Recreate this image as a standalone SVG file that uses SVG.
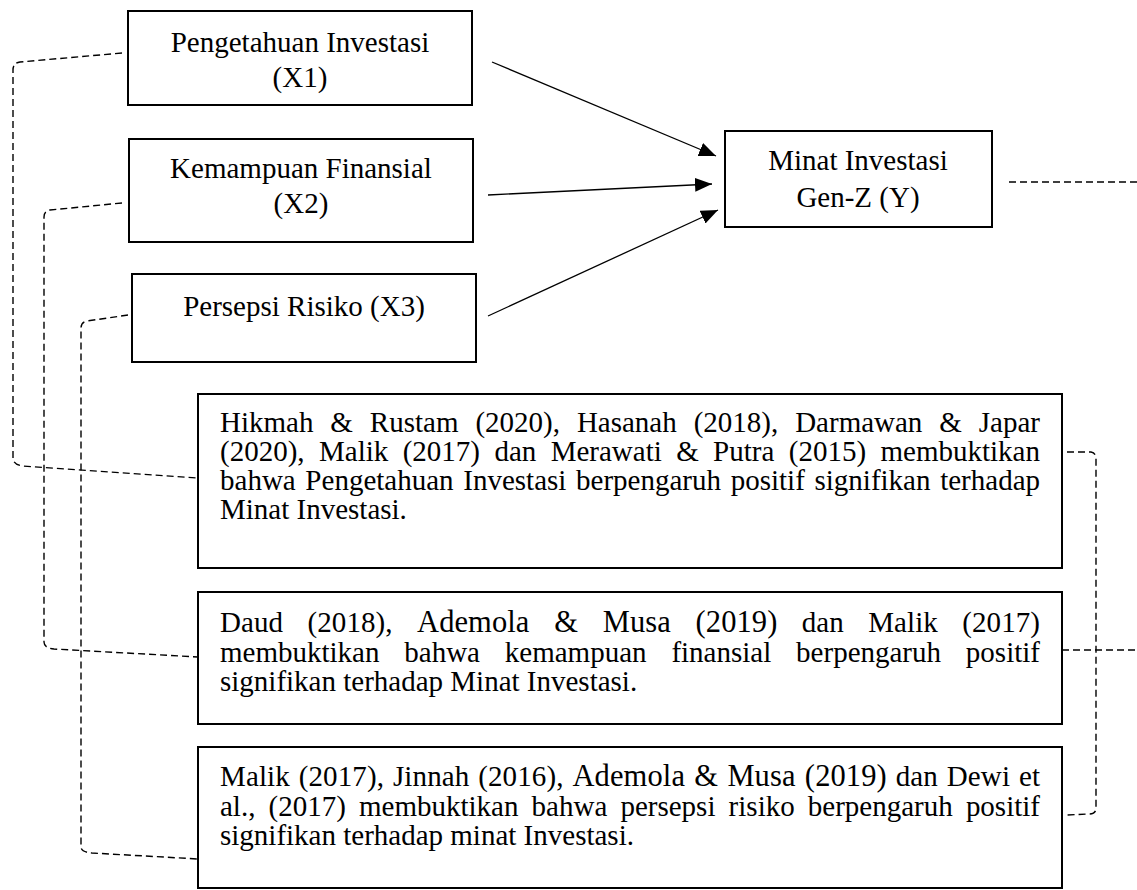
<svg xmlns="http://www.w3.org/2000/svg" width="1137" height="890" viewBox="0 0 1137 890">
<style>
.box{fill:#fff;stroke:#000;stroke-width:2}
.t{font-family:"Liberation Serif","Times New Roman",serif;font-size:29px;fill:#000}
.c{text-anchor:middle}
.big{font-size:30.5px}
.arr{fill:none;stroke:#000;stroke-width:1.3}
.dash{fill:none;stroke:#000;stroke-width:1.4;stroke-dasharray:7 4}
</style>
<defs>
<marker id="ah" markerUnits="userSpaceOnUse" markerWidth="18" markerHeight="14" refX="17" refY="7" orient="auto">
<path d="M0,0 L17,7 L0,14 z" fill="#000"/>
</marker>
</defs>
<g id="connectors">
<line class="arr" x1="492" y1="62" x2="716" y2="156" marker-end="url(#ah)"/>
<line class="arr" x1="488" y1="195" x2="712" y2="184" marker-end="url(#ah)"/>
<line class="arr" x1="488" y1="316" x2="718" y2="210" marker-end="url(#ah)"/>
<path class="dash" d="M122,53 L20,62 Q13,63 13,70 L13,458 Q13,464 22,466 L198,478"/>
<path class="dash" d="M122,203 L50,210 Q44,211 44,217 L44,642 Q44,648 54,649 L198,657"/>
<path class="dash" d="M128,315 L87,321 Q81,322 81,328 L81,847 Q81,852 92,853 L198,859"/>
<path class="dash" d="M1009,182 L1137,182"/>
<path class="dash" d="M1067,452 L1091,452 Q1096,453 1096,459 L1096,808 Q1096,814 1089,814 L1067,815"/>
<path class="dash" d="M1062,650 L1137,650"/>
</g>
<g id="x1">
<rect class="box" x="128" y="11" width="344" height="94"/>
<text class="t c" x="300" y="52">Pengetahuan Investasi</text>
<text class="t c" x="300" y="87">(X1)</text>
</g>
<g id="x2">
<rect class="box" x="129" y="139" width="344" height="103"/>
<text class="t c" x="301" y="178">Kemampuan Finansial</text>
<text class="t c" x="301" y="213">(X2)</text>
</g>
<g id="x3">
<rect class="box" x="132" y="274" width="344" height="88"/>
<text class="t c" x="304" y="316">Persepsi Risiko (X3)</text>
</g>
<g id="y">
<rect class="box" x="725" y="131" width="267" height="96"/>
<text class="t c" x="858" y="170">Minat Investasi</text>
<text class="t c" x="858" y="207">Gen-Z (Y)</text>
</g>
<g id="r1">
<rect class="box" x="198" y="394" width="864" height="174"/>
<text class="t" x="220" y="432" word-spacing="9.7" textLength="820" lengthAdjust="spacing">Hikmah &amp; Rustam (2020), Hasanah (2018), Darmawan &amp; Japar</text>
<text class="t" x="220" y="461" word-spacing="7.1" textLength="820" lengthAdjust="spacing">(2020), Malik (2017) dan Merawati &amp; Putra (2015) membuktikan</text>
<text class="t" x="220" y="490" word-spacing="2.4" textLength="820" lengthAdjust="spacing">bahwa Pengetahuan Investasi berpengaruh positif signifikan terhadap</text>
<text class="t" x="220" y="519">Minat Investasi.</text>
</g>
<g id="r2">
<rect class="box" x="198" y="592" width="864" height="132"/>
<text class="t" x="220" y="632" word-spacing="17" textLength="820" lengthAdjust="spacing">Daud (2018), <tspan class="big">Ademola &amp; Musa (2019)</tspan> dan Malik (2017)</text>
<text class="t" x="220" y="662" word-spacing="17.6" textLength="820" lengthAdjust="spacing">membuktikan bahwa kemampuan finansial berpengaruh positif</text>
<text class="t" x="220" y="691">signifikan terhadap Minat Investasi.</text>
</g>
<g id="r3">
<rect class="box" x="198" y="747" width="864" height="141"/>
<text class="t" x="220" y="786" word-spacing="1.5" textLength="820" lengthAdjust="spacing">Malik (2017), Jinnah (2016), <tspan class="big">Ademola &amp; Musa (2019)</tspan> dan Dewi et</text>
<text class="t" x="220" y="816" word-spacing="5.9" textLength="820" lengthAdjust="spacing">al., (2017) membuktikan bahwa persepsi risiko berpengaruh positif</text>
<text class="t" x="220" y="845">signifikan terhadap minat Investasi.</text>
</g>
</svg>
